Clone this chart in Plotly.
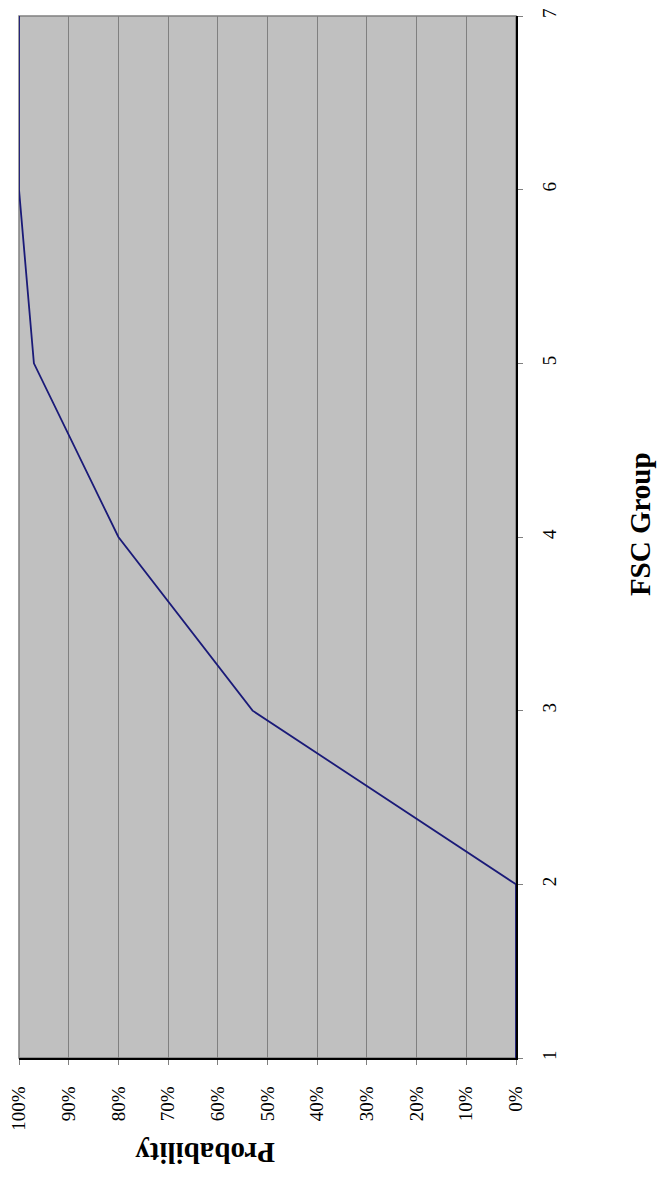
import plotly.graph_objects as go

fsc_group = [1, 2, 3, 4, 5, 6, 7]
probability = [0.0, 0.0, 0.53, 0.80, 0.97, 1.0, 1.0]
prob_ticks = [0.0, 0.1, 0.2, 0.3, 0.4, 0.5, 0.6, 0.7, 0.8, 0.9, 1.0]
prob_tick_labels = ["0%", "10%", "20%", "30%", "40%", "50%", "60%", "70%", "80%", "90%", "100%"]
fsc_ticks = [1, 2, 3, 4, 5, 6, 7]

W, H = 661, 1178
L, R, T, B = 19, 145, 8, 120
pw = W - L - R
ph = H - T - B

serif = "Liberation Serif, Times New Roman, serif"

fig = go.Figure()
fig.add_trace(go.Scatter(
    x=probability, y=fsc_group, mode="lines",
    line=dict(color="#1a1a78", width=1.8),
    showlegend=False, hoverinfo="skip", cliponaxis=False,
))

fig.update_layout(
    width=W, height=H,
    margin=dict(l=L, r=R, t=T, b=B, pad=0),
    paper_bgcolor="white",
    plot_bgcolor="#C0C0C0",
    font=dict(family=serif, size=19, color="black"),
    xaxis=dict(
        range=[1.0, 0.0],
        tickvals=prob_ticks, ticktext=prob_tick_labels,
        tickangle=-90,
        showgrid=True, gridcolor="#808080", gridwidth=1,
        zeroline=False,
        showline=True, linecolor="black", linewidth=1.5,
        ticks="outside", ticklen=5, tickcolor="#808080",
        ticklabelstandoff=14,
        layer="below traces",
    ),
    yaxis=dict(
        range=[1, 7],
        tickvals=fsc_ticks,
        side="right",
        tickangle=-90,
        showgrid=False, zeroline=False,
        showline=True, linecolor="black", linewidth=1.5,
        ticks="outside", ticklen=5, tickcolor="#808080",
        ticklabelstandoff=10,
        layer="below traces",
    ),
    shapes=[dict(
        type="rect", xref="paper", yref="paper", x0=0, x1=1, y0=0, y1=1,
        line=dict(color="#808080", width=1.5), fillcolor="rgba(0,0,0,0)",
        layer="below",
    )],
    annotations=[
        dict(
            text="<b>Probability</b>", xref="paper", yref="paper",
            x=(205 - L) / pw, y=(H - B - 1153) / ph,
            showarrow=False, textangle=180,
            font=dict(family=serif, size=29, color="black"),
            xanchor="center", yanchor="middle",
        ),
        dict(
            text="<b>FSC Group</b>", xref="paper", yref="paper",
            x=(640 - L) / pw, y=(H - B - 520) / ph,
            showarrow=False, textangle=-90,
            font=dict(family=serif, size=29, color="black"),
            xanchor="center", yanchor="middle",
        ),
    ],
)

fig.write_html("out.html", config={"displayModeBar": False},
               post_script="document.body.style.margin='0px';")
